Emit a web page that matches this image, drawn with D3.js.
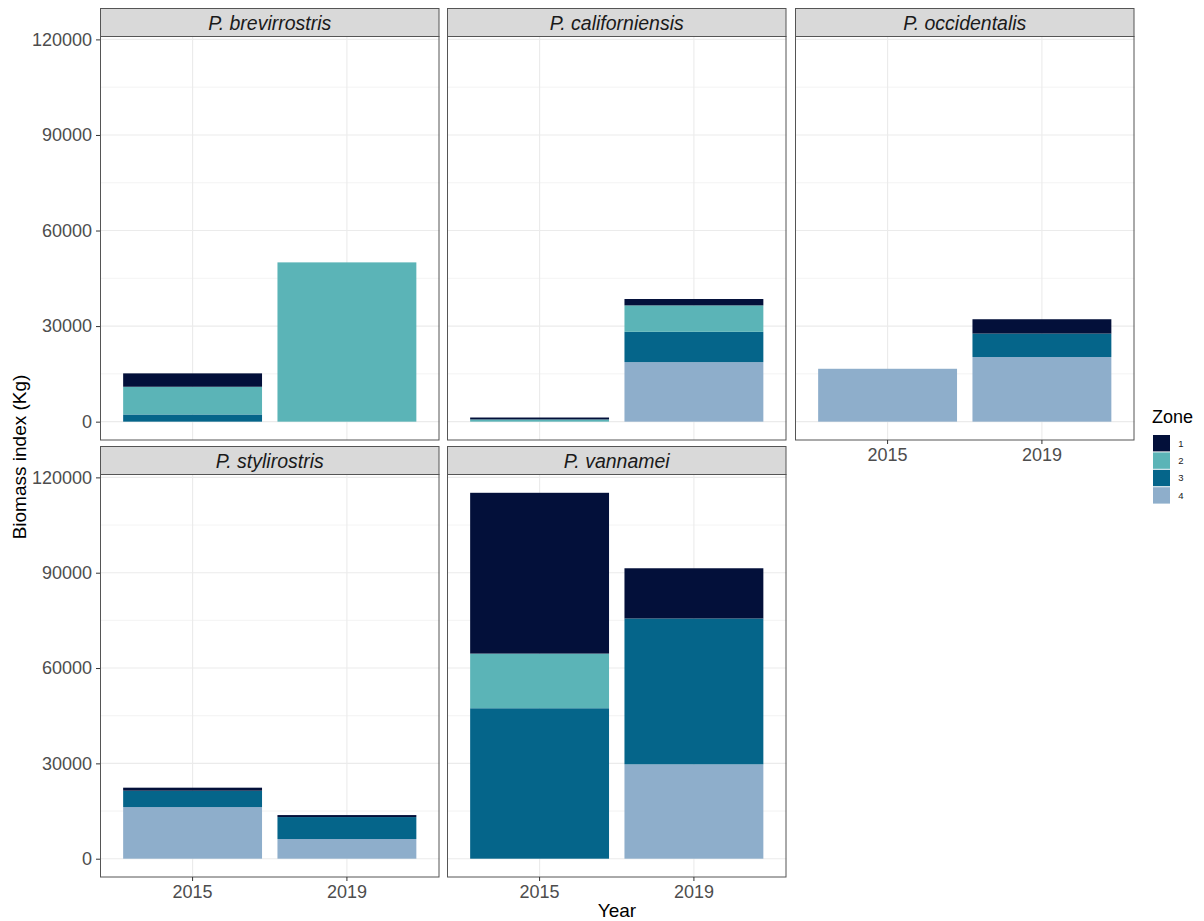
<!DOCTYPE html>
<html>
<head>
<meta charset="utf-8">
<script src="https://cdn.jsdelivr.net/npm/d3@7"></script>
<style>
  body { margin: 0; background: #fff; }
  svg { display: block; font-family: "Liberation Sans", Arial, sans-serif; }
</style>
</head>
<body>
<svg id="chart" width="1204" height="921"></svg>
<script>
// ---- data ----
const species = ["P. brevirrostris", "P. californiensis", "P. occidentalis", "P. stylirostris", "P. vannamei"];
const years = ["2015", "2019"];
const zones = ["1", "2", "3", "4"];
// values per species: [2015, 2019]
const zone1 = [[4200, 0], [600, 2000], [0, 4500], [940, 630], [50600, 15800]];
const zone2 = [[8700, 50000], [700, 8300], [0, 0], [0, 0], [17200, 0]];
const zone3 = [[2260, 0], [0, 9500], [0, 7350], [5150, 6900], [47350, 45900]];
const zone4 = [[0, 0], [0, 18700], [16600, 20300], [16260, 6200], [0, 29700]];
const yTicks = [0, 30000, 60000, 90000, 120000];
const yMinor = [15000, 45000, 75000, 105000];
const zoneColors = ["#03103a", "#5bb4b7", "#05658a", "#8eaecb"];

const zoneVals = [zone1, zone2, zone3, zone4];

// ---- layout ----
const svg = d3.select("#chart");
const colX = [100, 447, 795];
const panelW = 339.5;
const rowStripTop = [8.5, 446.5];
const stripH = 28;
const rowBottom = [440, 877];

// build rows of stacked data
const rows = [];
species.forEach((sp, si) => {
  years.forEach((yr, yi) => {
    const r = { species: sp, year: yr };
    zones.forEach((z, zi) => { r["z" + z] = zoneVals[zi][si][yi]; });
    rows.push(r);
  });
});
const maxTotal = d3.max(rows, r => zones.reduce((a, z) => a + r["z" + z], 0));
const pad = maxTotal * 0.05;

// stack order: zone 4 at bottom, zone 1 on top
const stack = d3.stack().keys(["z4", "z3", "z2", "z1"]);
const color = d3.scaleOrdinal().domain(["z1", "z2", "z3", "z4"]).range(zoneColors);

species.forEach((sp, si) => {
  const row = Math.floor(si / 3), col = si % 3;
  const x0 = colX[col];
  const top = rowStripTop[row] + stripH;
  const bottom = rowBottom[row];
  const g = svg.append("g");

  const x = d3.scaleBand().domain(years).range([x0, x0 + panelW]).paddingInner(0.1).paddingOuter(0.15);
  const y = d3.scaleLinear().domain([-pad, maxTotal + pad]).range([bottom, top]);

  // grid
  g.selectAll(".minor").data(yMinor).enter().append("line")
    .attr("x1", x0).attr("x2", x0 + panelW)
    .attr("y1", d => y(d)).attr("y2", d => y(d))
    .attr("stroke", "#ebebeb").attr("stroke-width", 0.6);
  g.selectAll(".major").data(yTicks).enter().append("line")
    .attr("x1", x0).attr("x2", x0 + panelW)
    .attr("y1", d => y(d)).attr("y2", d => y(d))
    .attr("stroke", "#ebebeb").attr("stroke-width", 1.1);
  g.selectAll(".vmajor").data(years).enter().append("line")
    .attr("x1", d => x(d) + x.bandwidth() / 2).attr("x2", d => x(d) + x.bandwidth() / 2)
    .attr("y1", top).attr("y2", bottom)
    .attr("stroke", "#ebebeb").attr("stroke-width", 1.1);

  // bars
  const data = rows.filter(r => r.species === sp);
  const series = stack(data);
  series.forEach(s => {
    g.selectAll(null).data(s.filter(d => d[1] - d[0] > 0)).enter().append("rect")
      .attr("x", d => x(d.data.year))
      .attr("width", x.bandwidth())
      .attr("y", d => y(d[1]))
      .attr("height", d => y(d[0]) - y(d[1]))
      .attr("fill", color(s.key));
  });

  // panel border
  g.append("rect").attr("x", x0 + 0.5).attr("y", top).attr("width", panelW - 1).attr("height", bottom - top)
    .attr("fill", "none").attr("stroke", "#555").attr("stroke-width", 1);

  // strip
  g.append("rect").attr("x", x0 + 0.5).attr("y", rowStripTop[row]).attr("width", panelW - 1).attr("height", stripH)
    .attr("fill", "#d9d9d9").attr("stroke", "#555").attr("stroke-width", 1);
  g.append("text").attr("x", x0 + panelW / 2).attr("y", rowStripTop[row] + stripH / 2 + 7)
    .attr("text-anchor", "middle").attr("font-style", "italic").attr("font-size", 19.5)
    .attr("fill", "#1a1a1a").text(sp);

  // y axis (first column)
  if (col === 0) {
    const ya = g.append("g").attr("transform", `translate(${x0},0)`)
      .call(d3.axisLeft(y).tickValues(yTicks).tickSize(4).tickPadding(4).tickFormat(d3.format("d")));
    ya.select(".domain").remove();
    ya.selectAll("line").attr("stroke", "#333");
    ya.selectAll("text").attr("font-size", 18).attr("fill", "#4d4d4d")
      .attr("font-family", "Liberation Sans, Arial, sans-serif");
  }
  // x axis (bottom row, or panel with nothing beneath)
  if (row === 1 || col === 2) {
    const xa = g.append("g").attr("transform", `translate(0,${bottom})`)
      .call(d3.axisBottom(x).tickSize(4).tickPadding(4));
    xa.select(".domain").remove();
    xa.selectAll("line").attr("stroke", "#333");
    xa.selectAll("text").attr("font-size", 18).attr("fill", "#4d4d4d")
      .attr("font-family", "Liberation Sans, Arial, sans-serif");
  }
});

// axis titles
svg.append("text").attr("x", 617).attr("y", 917).attr("text-anchor", "middle")
  .attr("font-size", 19).attr("fill", "#000").text("Year");
svg.append("text").attr("transform", "translate(26,457) rotate(-90)").attr("text-anchor", "middle")
  .attr("font-size", 19).attr("fill", "#000").text("Biomass index (Kg)");

// legend
const lg = svg.append("g");
lg.append("text").attr("x", 1152).attr("y", 423).attr("font-size", 18).attr("fill", "#000").text("Zone");
zones.forEach((z, i) => {
  const yy = 435 + i * 17.4;
  lg.append("rect").attr("x", 1153).attr("y", yy).attr("width", 17).attr("height", 16.4)
    .attr("fill", zoneColors[i]);
  lg.append("text").attr("x", 1181).attr("y", yy + 11.5).attr("text-anchor", "middle")
    .attr("font-size", 9.5).attr("fill", "#1a1a1a").text(z);
});
</script>
</body>
</html>
